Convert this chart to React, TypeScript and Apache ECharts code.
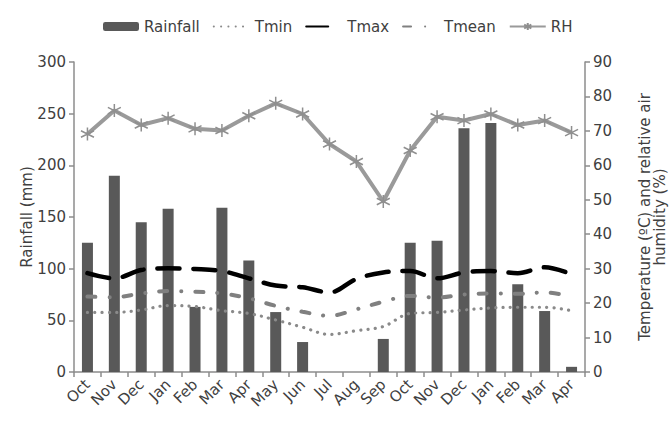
import React, { useEffect, useRef } from "react";
import * as echarts from "echarts";

const months = ["Oct", "Nov", "Dec", "Jan", "Feb", "Mar", "Apr", "May", "Jun", "Jul", "Aug", "Sep", "Oct", "Nov", "Dec", "Jan", "Feb", "Mar", "Apr"];
const rainfall = [125, 190, 145, 158, 63, 159, 108, 58, 29, 0, 0, 32, 125, 127, 236, 241, 85, 59, 5];
const tmin = [17.3, 17.3, 18.0, 19.3, 19.0, 17.8, 17.0, 15.1, 13.0, 10.9, 12.0, 13.2, 17.0, 17.3, 18.0, 18.6, 18.8, 18.8, 17.8];
const tmax = [28.7, 27.2, 29.6, 30.1, 29.9, 29.3, 27.2, 25.1, 24.6, 23.1, 27.0, 28.9, 29.3, 27.2, 28.9, 29.3, 28.7, 30.4, 28.4];
const tmean = [21.9, 21.7, 22.8, 23.5, 23.3, 22.8, 21.4, 19.2, 17.5, 16.3, 18.2, 20.4, 22.1, 21.6, 22.5, 22.8, 22.7, 23.1, 21.9];
const rh = [69.1, 75.9, 71.7, 73.7, 70.6, 70.1, 74.4, 78.0, 74.9, 66.2, 61.1, 49.5, 64.3, 74.1, 73.0, 74.9, 71.7, 73.0, 69.5];

const FONT = "DejaVu Sans";
const TXT = "#404040";
const AX = "#8c8c8c";

export default function App() {
  const ref = useRef<HTMLDivElement>(null);
  useEffect(() => {
    if (!ref.current) return;
    const chart = echarts.init(ref.current, null, { renderer: "svg" });
    const star = "path://M5,0L5,10M0.7,2.5L9.3,7.5M0.7,7.5L9.3,2.5";
    chart.setOption({
      animation: false,
      textStyle: { fontFamily: FONT, color: TXT },
      legend: {
        top: 14,
        left: 98,
        itemGap: 13,
        itemWidth: 36,
        itemHeight: 9,
        textStyle: { fontFamily: FONT, fontSize: 15, color: TXT },
        data: [
          { name: "Rainfall" },
          { name: "Tmin", itemStyle: { opacity: 0 } },
          { name: "Tmax", itemStyle: { opacity: 0 } },
          { name: "Tmean", itemStyle: { opacity: 0 } },
          { name: "RH" },
        ],
      },
      grid: { left: 74, right: 85, top: 62, bottom: 51, outerBoundsMode: "none", containLabel: false },
      xAxis: {
        type: "category",
        data: months,
        boundaryGap: true,
        axisLine: { lineStyle: { color: AX, width: 1.5 } },
        axisTick: { show: true, length: 5, lineStyle: { color: AX, width: 1.5 } },
        axisLabel: { rotate: 45, fontSize: 15, color: TXT, fontFamily: FONT, margin: 10, interval: 0 },
      },
      yAxis: [
        {
          type: "value",
          min: 0,
          max: 300,
          interval: 50,
          name: "Rainfall (mm)",
          nameLocation: "middle",
          nameGap: 40,
          nameRotate: 90,
          nameMoveOverlap: false,
          nameTextStyle: { fontSize: 15, color: TXT, fontFamily: FONT },
          splitLine: { show: false },
          axisLine: { show: true, lineStyle: { color: AX, width: 1.5 } },
          axisTick: { show: true, length: 5, lineStyle: { color: AX, width: 1.5 } },
          axisLabel: { fontSize: 15, color: TXT, fontFamily: FONT, margin: 8 },
        },
        {
          type: "value",
          min: 0,
          max: 90,
          interval: 10,
          position: "right",
          name: "Temperature (ºC) and relative air\nhumidity (%)",
          nameLocation: "middle",
          nameGap: 52,
          nameRotate: 90,
          nameMoveOverlap: false,
          nameTextStyle: { fontSize: 15, color: TXT, fontFamily: FONT, lineHeight: 15, align: "center" },
          splitLine: { show: false },
          axisLine: { show: true, lineStyle: { color: AX, width: 1.5 } },
          axisTick: { show: true, length: 5, lineStyle: { color: AX, width: 1.5 } },
          axisLabel: { fontSize: 15, color: TXT, fontFamily: FONT, margin: 8 },
        },
      ],
      series: [
        {
          name: "Rainfall",
          type: "bar",
          data: rainfall,
          barWidth: 11,
          itemStyle: { color: "#595959" },
          yAxisIndex: 0,
        },
        {
          name: "Tmin",
          type: "line",
          data: tmin,
          yAxisIndex: 1,
          smooth: 0.35,
          symbol: "none",
          lineStyle: { color: "#8a8a8a", width: 3.2, type: [0.1, 7.2], cap: "round" },
          itemStyle: { color: "#8a8a8a" },
        },
        {
          name: "Tmax",
          type: "line",
          data: tmax,
          yAxisIndex: 1,
          smooth: 0.35,
          symbol: "none",
          lineStyle: { color: "#000000", width: 4.5, type: [22, 14], cap: "round" },
          itemStyle: { color: "#000000" },
        },
        {
          name: "Tmean",
          type: "line",
          data: tmean,
          yAxisIndex: 1,
          smooth: 0.35,
          symbol: "none",
          lineStyle: { color: "#808080", width: 4, type: [8, 14, 0.1, 14], cap: "round" },
          itemStyle: { color: "#808080" },
        },
        {
          name: "RH",
          type: "line",
          data: rh,
          yAxisIndex: 1,
          symbol: star,
          symbolSize: 13,
          lineStyle: { color: "#9a9a9a", width: 4 },
          itemStyle: { color: "none", borderColor: "#8f8f8f", borderWidth: 1.5 },
        },
      ],
    });
    return () => chart.dispose();
  }, []);
  return <div ref={ref} style={{ width: 670, height: 423, position: "absolute", left: 0, top: 0 }} />;
}
